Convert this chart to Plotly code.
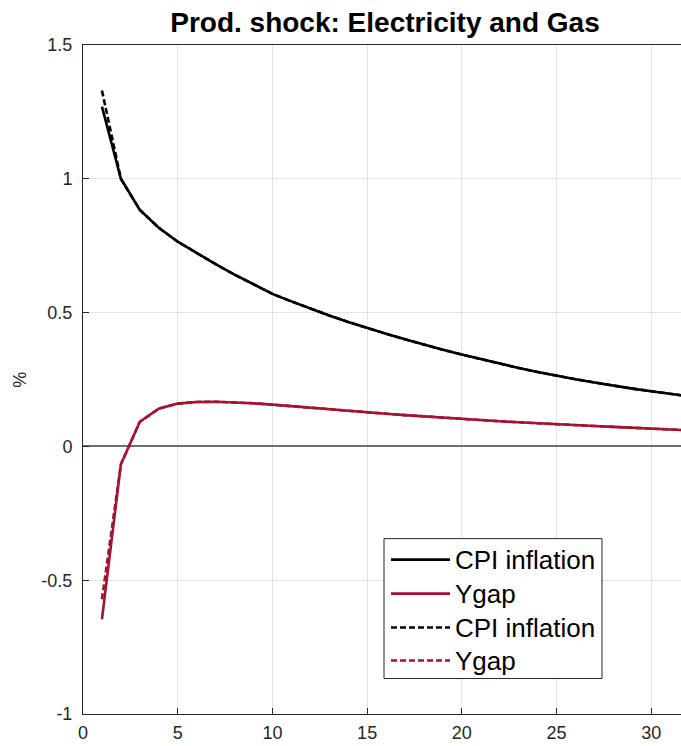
import plotly.graph_objects as go

# Data
periods = list(range(1, 33))
cpi_solid = [1.27, 1.00, 0.884, 0.817, 0.765, 0.722, 0.681, 0.642, 0.605, 0.570,
             0.542, 0.515, 0.489, 0.465, 0.442, 0.421, 0.400, 0.380, 0.361, 0.343,
             0.326, 0.309, 0.293, 0.278, 0.264, 0.251, 0.239, 0.227, 0.216, 0.206,
             0.196, 0.187]
ygap_solid = [-0.646, -0.067, 0.092, 0.141, 0.160, 0.166, 0.167, 0.165, 0.161, 0.156,
              0.150, 0.144, 0.138, 0.133, 0.127, 0.122, 0.117, 0.112, 0.107, 0.103,
              0.098, 0.094, 0.090, 0.086, 0.082, 0.079, 0.076, 0.073, 0.070, 0.066,
              0.063, 0.060]
cpi_dash = [1.33] + cpi_solid[1:]
ygap_dash = [-0.571] + ygap_solid[1:]

series_names = ["CPI inflation", "Ygap", "CPI inflation", "Ygap"]
x_ticks = [0, 5, 10, 15, 20, 25, 30]
y_ticks = [-1, -0.5, 0, 0.5, 1, 1.5]
y_tick_labels = ["-1", "-0.5", "0", "0.5", "1", "1.5"]

BLACK = "#000000"
RED = "#A2142F"
DASH = "6px,3px"
colors = [BLACK, RED, BLACK, RED]
dashes = ["solid", "solid", DASH, DASH]

fig = go.Figure()
for name, yv, c, d in zip(series_names, [cpi_solid, ygap_solid, cpi_dash, ygap_dash], colors, dashes):
    fig.add_trace(go.Scatter(x=periods, y=yv, mode="lines", name=name,
                             line=dict(color=c, width=2.6, dash=d), showlegend=False))

FONT = "Liberation Sans, Arial, sans-serif"

# plot-area geometry in pixels (for placing the manual legend)
L, R, T, B = 83, 681, 45, 714.5
def px(x):
    return (x - L) / (R - L)
def py(y):
    return (B - y) / (B - T)

shapes = [dict(type="rect", xref="paper", yref="paper",
               x0=px(384), x1=px(602), y0=py(679), y1=py(539),
               line=dict(color="#262626", width=1), fillcolor="white", layer="above")]
annotations = []
rows = [560, 594, 628, 661]
for name, c, d, yy in zip(series_names, colors, dashes, rows):
    shapes.append(dict(type="line", xref="paper", yref="paper",
                       x0=px(391), x1=px(450), y0=py(yy), y1=py(yy),
                       line=dict(color=c, width=2.6, dash=d), layer="above"))
    annotations.append(dict(text=name, xref="paper", yref="paper", x=px(453), y=py(yy),
                            xanchor="left", yanchor="middle", showarrow=False,
                            font=dict(family=FONT, size=26, color="#000000")))
annotations.append(dict(text="%", xref="paper", yref="paper", x=px(20), y=py(380),
                        xanchor="center", yanchor="middle", textangle=-90, showarrow=False,
                        font=dict(family=FONT, size=18, color="#262626")))

fig.update_layout(
    width=681, height=746,
    margin=dict(l=83, r=0, t=45, b=31.5, autoexpand=False),
    paper_bgcolor="white", plot_bgcolor="white",
    font=dict(family=FONT, color="#262626", size=18),
    title=dict(text="<b>Prod. shock: Electricity and Gas</b>",
               x=0.505, xanchor="center", xref="paper",
               y=1 - 22 / 746, yanchor="middle",
               font=dict(family=FONT, size=28, color="#000000")),
    xaxis=dict(range=[0, 31.57], tickvals=x_ticks, ticks="inside", ticklen=6,
               tickcolor="#262626", showline=True, linecolor="#262626", linewidth=1,
               mirror=True, showgrid=True, gridcolor="#E3E3E3", gridwidth=1,
               zeroline=False, tickfont=dict(size=18, color="#262626"), automargin=False,
               ticklabelstandoff=2),
    yaxis=dict(range=[-1, 1.5], tickvals=y_ticks, ticktext=y_tick_labels,
               ticks="inside", ticklen=6, tickcolor="#262626",
               showline=True, linecolor="#262626", linewidth=1,
               showgrid=True, gridcolor="#E3E3E3", gridwidth=1,
               zeroline=True, zerolinecolor="#6E6E6E", zerolinewidth=1.5,
               tickfont=dict(size=18, color="#262626"), automargin=False,
               ticklabelstandoff=6),
    shapes=shapes,
    annotations=annotations,
    showlegend=False,
)

fig.write_html("out.html", config={"displayModeBar": False},
               post_script="document.body.style.margin='0';")
